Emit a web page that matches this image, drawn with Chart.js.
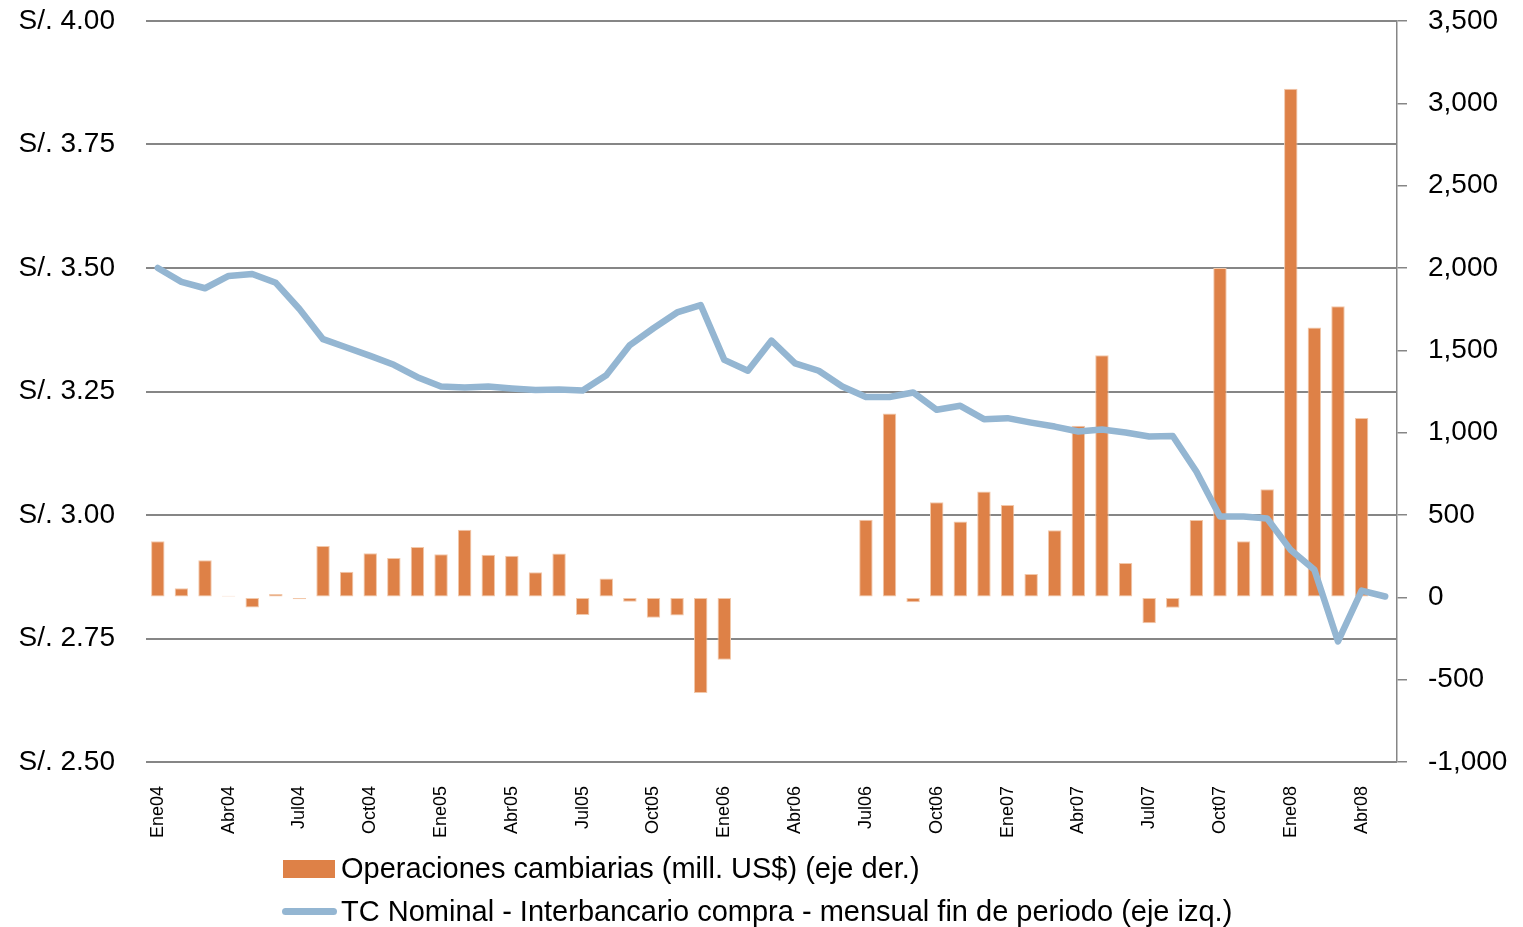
<!DOCTYPE html>
<html><head><meta charset="utf-8">
<script src="https://cdn.jsdelivr.net/npm/chart.js@4/dist/chart.umd.min.js"></script>
<style>
html,body{margin:0;padding:0;background:#fff;}
#wrap{position:relative;width:1523px;height:927px;overflow:hidden;}
#c{position:absolute;left:0;top:0;}
.leg{position:absolute;font-family:"Liberation Sans",Arial,sans-serif;font-size:29px;line-height:29px;color:#000;white-space:nowrap;}
.sw1{position:absolute;left:283px;top:860px;width:52px;height:18px;background:#DE8147;}
.sw2{position:absolute;left:282px;top:908px;width:55px;height:7px;border-radius:3.5px;background:#94B6D2;}
</style></head><body>
<div id="wrap">
<canvas id="c" width="1523" height="927"></canvas>
<div class="sw1"></div><div class="leg" style="left:341px;top:854px;">Operaciones cambiarias (mill. US$) (eje der.)</div>
<div class="sw2"></div><div class="leg" style="left:341px;top:897px;">TC Nominal - Interbancario compra - mensual fin de periodo (eje izq.)</div>
</div>
<script>
const categories = [
 "Ene04","Feb04","Mar04","Abr04","May04","Jun04","Jul04","Ago04","Sep04","Oct04","Nov04","Dic04",
 "Ene05","Feb05","Mar05","Abr05","May05","Jun05","Jul05","Ago05","Sep05","Oct05","Nov05","Dic05",
 "Ene06","Feb06","Mar06","Abr06","May06","Jun06","Jul06","Ago06","Sep06","Oct06","Nov06","Dic06",
 "Ene07","Feb07","Mar07","Abr07","May07","Jun07","Jul07","Ago07","Sep07","Oct07","Nov07","Dic07",
 "Ene08","Feb08","Mar08","Abr08","May08"
];
const operaciones = [
 340,55,225,10,-61,20,-12,311,156,267,239,305,
 261,410,259,253,152,266,-107,115,-27,-124,-110,-581,
 -379,0,0,0,0,0,471,1117,-30,577,461,643,
 560,141,407,1042,1470,208,-158,-63,469,2000,340,657,
 3089,1639,1767,1089,null
];
const tcNominal = [
 3.500,3.472,3.459,3.484,3.488,3.470,3.417,3.356,3.339,3.322,3.304,3.279,
 3.260,3.258,3.260,3.256,3.253,3.254,3.252,3.283,3.344,3.378,3.410,3.425,
 3.314,3.292,3.353,3.307,3.292,3.260,3.239,3.239,3.248,3.213,3.221,3.194,
 3.196,3.187,3.179,3.169,3.173,3.167,3.159,3.160,3.088,2.997,2.997,2.993,
 2.929,2.889,2.744,2.847,2.835
];
const leftTicks = {min:2.5, max:4.0, step:0.25};
const rightTicks = {min:-1000, max:3500, step:500};

const FAM = '"Liberation Sans", Arial, sans-serif';
const gridColor = '#868686';
function noPad(s){ s.paddingTop=0; s.paddingBottom=0; s.paddingLeft=0; s.paddingRight=0; }

new Chart(document.getElementById('c'), {
  data: {
    labels: categories,
    datasets: [
      {
        type:'line', label:'TC Nominal - Interbancario compra - mensual fin de periodo (eje izq.)',
        data: tcNominal, yAxisID:'yL', borderColor:'#94B6D2', borderWidth:6.5,
        pointRadius:0, tension:0, borderJoinStyle:'round', borderCapStyle:'round', order:0
      },
      {
        type:'bar', label:'Operaciones cambiarias (mill. US$) (eje der.)',
        data: operaciones, yAxisID:'yR', backgroundColor:'#DE8147',
        borderColor:'#F2C8AA', borderWidth:1, borderSkipped:false,
        barPercentage:0.57, categoryPercentage:1.0, order:1
      }
    ]
  },
  options: {
    responsive:false, animation:false,
    layout:{padding:{top:21,left:0,right:0,bottom:0}},
    plugins:{legend:{display:false}, tooltip:{enabled:false}},
    scales:{
      x:{
        type:'category', offset:true,
        grid:{display:false, drawTicks:false}, border:{display:false},
        ticks:{autoSkip:false, maxRotation:90, minRotation:90, padding:24, color:'#000',
          font:{family:FAM, size:18},
          callback:(v,i)=> (i%3===0 ? categories[i] : '')},
        afterFit:s=>{s.height=165; noPad(s);}
      },
      yL:{
        position:'left', min:leftTicks.min, max:leftTicks.max,
        grid:{color:gridColor, lineWidth:2, drawTicks:false}, border:{display:false},
        ticks:{stepSize:leftTicks.step, padding:31, color:'#000', font:{family:FAM, size:28},
          callback:v=>'S/. '+Number(v).toFixed(2)},
        afterFit:s=>{s.width=146; noPad(s);}
      },
      yR:{
        position:'right', min:rightTicks.min, max:rightTicks.max,
        grid:{drawOnChartArea:false, drawTicks:true, tickLength:10, color:gridColor, lineWidth:1.5},
        border:{display:true, color:gridColor, width:1.5},
        ticks:{stepSize:rightTicks.step, padding:21, color:'#000', font:{family:FAM, size:28},
          callback:v=>Number(v).toLocaleString('en-US')},
        afterFit:s=>{s.width=126; noPad(s);}
      }
    }
  }
});
</script>
</body></html>
